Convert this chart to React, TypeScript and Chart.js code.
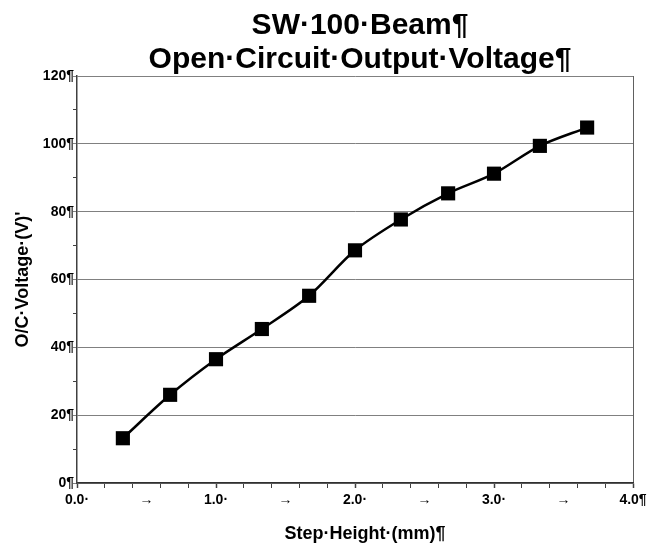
import React, { useEffect, useRef } from "react";
import { Chart, registerables } from "chart.js";

Chart.register(...registerables);

const titleLines = ["SW·100·Beam¶", "Open·Circuit·Output·Voltage¶"];
const xTitle = "Step·Height·(mm)¶";
const yTitle = "O/C·Voltage·(V)'";
const xTickLabels = ["0.0·", "→", "1.0·", "→", "2.0·", "→", "3.0·", "→", "4.0¶"];
const yTickLabels = ["0¶", "20¶", "40¶", "60¶", "80¶", "100¶", "120¶"];
const stepHeights = [0.33, 0.67, 1.0, 1.33, 1.67, 2.0, 2.33, 2.67, 3.0, 3.33, 3.67];
const voltages = [13.2, 26.0, 36.5, 45.4, 55.2, 68.6, 77.7, 85.4, 91.2, 99.4, 104.8];

const FONT = "'Liberation Sans', Arial, sans-serif";

const textPlugin = {
  id: "chartTexts",
  afterDraw(chart: any) {
    const { ctx, chartArea } = chart;
    const cx = (chartArea.left + chartArea.right) / 2;
    const cy = (chartArea.top + chartArea.bottom) / 2;
    ctx.save();
    ctx.fillStyle = "#000";
    ctx.textAlign = "center";
    ctx.textBaseline = "alphabetic";
    ctx.font = `bold 30px ${FONT}`;
    ctx.fillText(titleLines[0], cx + 5, 34);
    ctx.fillText(titleLines[1], cx + 5, 68);
    ctx.font = `bold 18px ${FONT}`;
    ctx.fillText(xTitle, cx + 10, chartArea.bottom + 56);
    ctx.translate(28, cy);
    ctx.rotate(-Math.PI / 2);
    ctx.fillText(yTitle, 0, 0);
    ctx.restore();
  },
};

export default function App() {
  const ref = useRef<HTMLCanvasElement | null>(null);
  useEffect(() => {
    if (!ref.current) return;
    const chart = new Chart(ref.current, {
      type: "line",
      data: {
        datasets: [
          {
            data: stepHeights.map((x, i) => ({ x, y: voltages[i] })),
            borderColor: "#000",
            backgroundColor: "#000",
            borderWidth: 2.5,
            tension: 0.3,
            pointStyle: "rect",
            pointRadius: 10,
            pointBorderWidth: 0,
            pointBackgroundColor: "#000",
            fill: false,
          },
        ],
      },
      options: {
        animation: false,
        responsive: true,
        maintainAspectRatio: false,
        layout: { padding: { top: 76, right: 24, left: 0, bottom: 0 } },
        plugins: { legend: { display: false }, title: { display: false }, tooltip: { enabled: false } },
        scales: {
          x: {
            type: "linear",
            min: 0,
            max: 4,
            afterFit: (s: any) => {
              s.height = 62;
            },
            ticks: {
              stepSize: 0.1,
              autoSkip: false,
              maxRotation: 0,
              padding: 4,
              color: "#000",
              font: { family: FONT, size: 14, weight: "bold" },
              callback: (_v: any, i: number) => (i % 5 === 0 ? xTickLabels[i / 5] : ""),
            },
            grid: {
              color: (c: any) => (c.index === 40 ? "#606060" : "transparent"),
              tickColor: (c: any) => (c.index % 2 === 0 ? "#404040" : "transparent"),
              tickLength: 5,
              tickWidth: (c: any) => (c.index % 10 === 0 ? 1.5 : 1),
            },
            border: { display: true, color: "#303030", width: 1.5 },
          },
          y: {
            min: 0,
            max: 120,
            afterFit: (s: any) => {
              s.width = 77;
            },
            ticks: {
              stepSize: 10,
              autoSkip: false,
              padding: -1,
              color: "#000",
              font: { family: FONT, size: 14, weight: "bold" },
              callback: (_v: any, i: number) => (i % 2 === 0 ? yTickLabels[i / 2] : ""),
            },
            grid: {
              color: (c: any) => (c.index % 2 === 0 ? "#808080" : "transparent"),
              tickColor: (c: any) => (c.index % 2 === 0 ? "#808080" : "#404040"),
              tickLength: 4,
            },
            border: { display: true, color: "#404040", width: 1.5 },
          },
        },
      },
      plugins: [textPlugin],
    });
    return () => chart.destroy();
  }, []);
  return (
    <div style={{ position: "fixed", left: 0, top: 0, width: 657, height: 545, background: "#fff" }}>
      <canvas ref={ref} />
    </div>
  );
}
